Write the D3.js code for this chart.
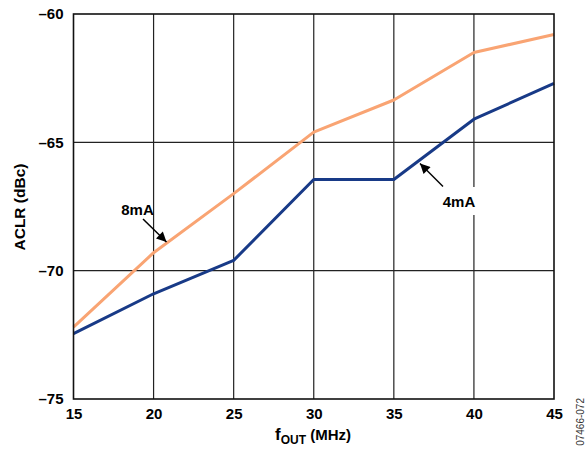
<!DOCTYPE html>
<html><head><meta charset="utf-8">
<script src="https://cdn.jsdelivr.net/npm/d3@7"></script>
<style>body{margin:0;background:#fff}svg{display:block}</style>
</head><body>
<svg id="c" width="586" height="453"></svg>
<script>
const freqs = [15, 20, 25, 30, 35, 40, 45];
const aclr8mA = [-72.2, -69.3, -67.0, -64.6, -63.35, -61.5, -60.8];
const aclr4mA = [-72.45, -70.9, -69.6, -66.45, -66.45, -64.1, -62.7];
const xTicks = [15, 20, 25, 30, 35, 40, 45];
const yTicks = [-60, -65, -70, -75];

const svg = d3.select("#c");
const L = 73.5, R = 554, T = 14, B = 399;
const x = d3.scaleLinear().domain([15, 45]).range([L, R]);
const y = d3.scaleLinear().domain([-75, -60]).range([B, T]);
const font = "Arial, 'Liberation Sans', Helvetica, sans-serif";

// grid
const g = svg.append("g");
g.selectAll(".vx").data(xTicks.slice(1, -1)).enter().append("line")
  .attr("x1", d => x(d)).attr("x2", d => x(d)).attr("y1", T).attr("y2", B)
  .attr("stroke", "#222").attr("stroke-width", 1.2);
g.selectAll(".hy").data(yTicks.slice(1, -1)).enter().append("line")
  .attr("y1", d => y(d)).attr("y2", d => y(d)).attr("x1", L).attr("x2", R)
  .attr("stroke", "#222").attr("stroke-width", 1.2);

// axes (labels only)
const xa = svg.append("g").attr("transform", `translate(0,${B})`)
  .call(d3.axisBottom(x).tickValues(xTicks).tickSize(0).tickPadding(9).tickFormat(d3.format("d")));
xa.select(".domain").remove();
xa.selectAll("text").attr("font-family", font).attr("font-size", 15).attr("font-weight", "bold").attr("fill", "#000");
const ya = svg.append("g").attr("transform", `translate(${L},0)`)
  .call(d3.axisLeft(y).tickValues(yTicks).tickSize(0).tickPadding(10).tickFormat(d => "\u2013" + Math.abs(d)));
ya.select(".domain").remove();
ya.selectAll("text").attr("font-family", font).attr("font-size", 15).attr("font-weight", "bold").attr("fill", "#000");

// lines
const line = d3.line().x((d, i) => x(freqs[i])).y(d => y(d));
svg.append("path").datum(aclr8mA).attr("d", line).attr("fill", "none")
  .attr("stroke", "#F9A473").attr("stroke-width", 3).attr("stroke-linejoin", "round");
svg.append("path").datum(aclr4mA).attr("d", line).attr("fill", "none")
  .attr("stroke", "#183A87").attr("stroke-width", 3).attr("stroke-linejoin", "round");

// frame
svg.append("rect").attr("x", L).attr("y", T).attr("width", R - L).attr("height", B - T)
  .attr("fill", "none").attr("stroke", "#111").attr("stroke-width", 1.6);

// arrowhead marker
const defs = svg.append("defs");
defs.append("marker").attr("id", "ah").attr("viewBox", "0 0 10 10").attr("refX", 10).attr("refY", 5)
  .attr("markerWidth", 12).attr("markerHeight", 10).attr("markerUnits", "userSpaceOnUse").attr("orient", "auto")
  .append("path").attr("d", "M0,0 L10,5 L0,10 Z").attr("fill", "#000");

// 8mA annotation
svg.append("text").attr("x", 137.5).attr("y", 215).attr("text-anchor", "middle")
  .attr("font-family", font).attr("font-size", 15).attr("font-weight", "bold").text("8mA");
svg.append("line").attr("x1", 143).attr("y1", 219).attr("x2", 166.5).attr("y2", 242)
  .attr("stroke", "#000").attr("stroke-width", 1.5).attr("marker-end", "url(#ah)");

// 4mA annotation
svg.append("rect").attr("x", 438).attr("y", 187).attr("width", 44).attr("height", 28).attr("fill", "#fff");
svg.append("text").attr("x", 459).attr("y", 207).attr("text-anchor", "middle")
  .attr("font-family", font).attr("font-size", 15).attr("font-weight", "bold").text("4mA");
svg.append("line").attr("x1", 443).attr("y1", 186.5).attr("x2", 420).attr("y2", 163.5)
  .attr("stroke", "#000").attr("stroke-width", 1.5).attr("marker-end", "url(#ah)");

// axis titles
svg.append("text").attr("transform", "translate(25,207) rotate(-90)").attr("text-anchor", "middle")
  .attr("font-family", font).attr("font-size", 15.5).attr("font-weight", "bold").text("ACLR (dBc)");
const xt = svg.append("text").attr("x", 313).attr("y", 440).attr("text-anchor", "middle")
  .attr("font-family", font).attr("font-size", 15).attr("font-weight", "bold");
xt.append("tspan").attr("font-size", 17).text("f");
xt.append("tspan").attr("font-size", 12).attr("dy", 4).text("OUT");
xt.append("tspan").attr("dy", -4).text(" (MHz)");

svg.append("text").attr("transform", "translate(584,398) rotate(-90)").attr("text-anchor", "end")
  .attr("font-family", font).attr("font-size", 10).attr("fill", "#333").text("07466-072");
</script>
</body></html>
